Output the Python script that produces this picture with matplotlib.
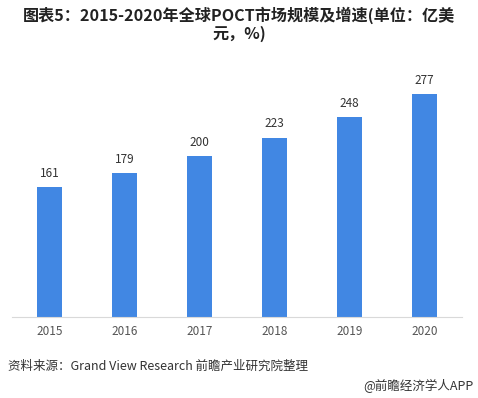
import matplotlib.pyplot as plt

plt.rcParams['font.family'] = ['Noto Sans CJK SC', 'DejaVu Sans']

years = ['2015', '2016', '2017', '2018', '2019', '2020']
market_size = [161, 179, 200, 223, 248, 277]

fig = plt.figure(figsize=(4.78, 3.98), dpi=100)
ax = fig.add_axes([12 / 478, 81 / 398, 450 / 478, 247 / 398])

bars = ax.bar(years, market_size, width=0.33, color='#4187E3')
for b, v in zip(bars, market_size):
    ax.text(b.get_x() + b.get_width() / 2, v + 9, str(v),
            ha='center', va='bottom', fontsize=8.5, color='#333333')

ax.set_xlim(-0.5, 5.5)
ax.set_ylim(0, 307)
ax.set_yticks([])
for s in ['top', 'right', 'left']:
    ax.spines[s].set_visible(False)
ax.spines['bottom'].set_color('#d9d9d9')
ax.tick_params(axis='x', length=0, labelsize=8.5, labelcolor='#555555', pad=6)

fig.text(0.5, 1 - 15 / 398, '图表5：2015-2020年全球POCT市场规模及增速(单位：亿美',
         ha='center', va='center', fontsize=11.6, fontweight='bold', color='#222222')
fig.text(0.5, 1 - 34 / 398, '元，%)',
         ha='center', va='center', fontsize=11.6, fontweight='bold', color='#222222')

fig.text(8 / 478, 1 - 366 / 398, '资料来源：Grand View Research 前瞻产业研究院整理',
         ha='left', va='center', fontsize=9, color='#333333')
fig.text(473 / 478, 1 - 386 / 398, '@前瞻经济学人APP', ha='right', va='center',
         fontsize=9, color='#333333')

fig.savefig('out.png', dpi=100)
